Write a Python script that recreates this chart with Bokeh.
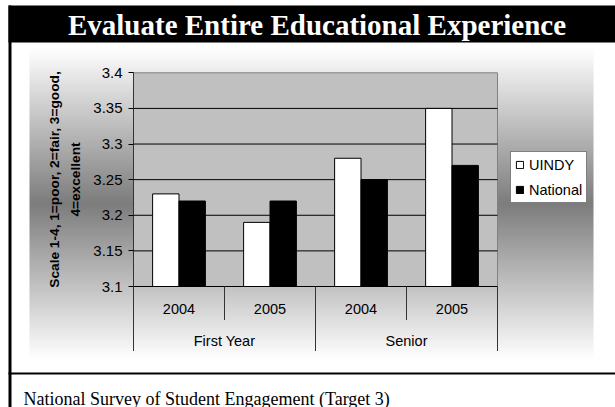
import numpy as np
from bokeh.plotting import figure
from bokeh.models import Range1d, LinearAxis, FixedTicker, Legend, LegendItem, ColumnDataSource
from bokeh.transform import dodge
from bokeh.core.properties import value
from bokeh.embed import file_html
from bokeh.resources import INLINE

# ---------------- data ----------------
TITLE = "Evaluate Entire Educational Experience"
CAPTION = "National Survey of Student Engagement (Target 3)"
Y_LABEL = "Scale 1-4, 1=poor, 2=fair, 3=good,\n4=excellent"
GROUPS = ["First Year", "First Year", "Senior", "Senior"]
YEARS = ["2004", "2005", "2004", "2005"]
SERIES = ["UINDY", "National"]
UINDY = [3.23, 3.19, 3.28, 3.35]
NATIONAL = [3.22, 3.22, 3.25, 3.27]
Y_TICKS = [3.1, 3.15, 3.2, 3.25, 3.3, 3.35, 3.4]
Y_TICK_LABELS = ["3.1", "3.15", "3.2", "3.25", "3.3", "3.35", "3.4"]

# ---------------- layout (pixels) ----------------
W, H = 615, 407
PLOT_L, PLOT_R, PLOT_T, PLOT_B = 133.0, 497.0, 72.3, 286.0
N = len(YEARS)
YMIN, YMAX = Y_TICKS[0], Y_TICKS[-1]
BAR_W = 0.29


def xd(px):
    return (px - PLOT_L) / (PLOT_R - PLOT_L) * N


def yd(py):
    return YMIN + (PLOT_B - py) / (PLOT_B - PLOT_T) * (YMAX - YMIN)


p = figure(width=W, height=H,
           x_range=Range1d(xd(0), xd(W)), y_range=Range1d(yd(H), yd(0)),
           output_backend="svg", toolbar_location=None,
           x_axis_location=None, y_axis_location=None,
           min_border=0, outline_line_color=None,
           background_fill_color="white", border_fill_color="white")
p.xgrid.visible = False
p.ygrid.visible = False

SANS = value("Liberation Sans")
SERIF = value("Liberation Serif")

# gradient chart-area background (white - gray - white)
G_T, G_B, G_L, G_R = 48, 358, 29, 593
rows = G_B - G_T
yy = np.arange(rows) + 0.5
t = 1 - np.abs(yy - rows / 2) / (rows / 2)
gray = (255 - (255 - 125) * t).astype(np.uint8)
img = np.zeros((rows, 1), dtype=np.uint32)
view = img.view(dtype=np.uint8).reshape((rows, 1, 4))
view[:, 0, 0] = gray
view[:, 0, 1] = gray
view[:, 0, 2] = gray
view[:, 0, 3] = 255
p.image_rgba(image=[img], x=xd(G_L), y=yd(G_B), dw=xd(G_R) - xd(G_L), dh=yd(G_T) - yd(G_B))

# page decoration: title bar, left rule, bottom rule
p.quad(left=xd(8), right=xd(W + 2), top=yd(5), bottom=yd(42), fill_color="black", line_color=None)
p.quad(left=xd(8), right=xd(11), top=yd(5), bottom=yd(H + 2), fill_color="black", line_color=None)
p.quad(left=xd(8), right=xd(W + 2), top=yd(372), bottom=yd(374), fill_color="black", line_color=None)

p.text(x=[xd(316.5)], y=[yd(24)], text=[TITLE], text_font=SERIF, text_font_style="bold",
       text_font_size="29px", text_color="white", text_align="center", text_baseline="middle")
p.text(x=[xd(23)], y=[yd(398)], text=[CAPTION], text_font=SERIF,
       text_font_size="18px", text_color="black", text_align="left", text_baseline="alphabetic")

# plot area
p.quad(left=0, right=N, bottom=YMIN, top=YMAX, fill_color="#C0C0C0", line_color="#808080")
p.segment(x0=[0] * (len(Y_TICKS) - 2), x1=[N] * (len(Y_TICKS) - 2),
          y0=Y_TICKS[1:-1], y1=Y_TICKS[1:-1], line_color="black", line_width=1)

xs = [i + 0.5 for i in range(N)]
src = ColumnDataSource(dict(x=xs, uindy=UINDY, national=NATIONAL))
r1 = p.vbar(x=dodge("x", -BAR_W / 2), width=BAR_W, bottom=YMIN, top="uindy", source=src,
            fill_color="white", line_color="black", line_width=1)
r2 = p.vbar(x=dodge("x", BAR_W / 2), width=BAR_W, bottom=YMIN, top="national", source=src,
            fill_color="black", line_color="black", line_width=1)

# category axis
p.segment(x0=[0], x1=[N], y0=[YMIN], y1=[YMIN], line_color="black", line_width=1)
bx_long, bx_short = [], []
for b in range(N + 1):
    if b == 0 or b == N or GROUPS[b - 1] != GROUPS[b]:
        bx_long.append(b)
    else:
        bx_short.append(b)
p.segment(x0=bx_long, x1=bx_long, y0=[YMIN] * len(bx_long), y1=[yd(350.5)] * len(bx_long),
          line_color="#333333", line_width=1)
p.segment(x0=bx_short, x1=bx_short, y0=[YMIN] * len(bx_short), y1=[yd(319.5)] * len(bx_short),
          line_color="#333333", line_width=1)
p.text(x=xs, y=[yd(308)] * N, text=YEARS, text_font=SANS, text_font_size="14.5px",
       text_color="black", text_align="center", text_baseline="middle")
group_names, group_pos = [], []
for g in dict.fromkeys(GROUPS):
    idx = [i for i, gg in enumerate(GROUPS) if gg == g]
    group_names.append(g)
    group_pos.append(sum(xs[i] for i in idx) / len(idx))
p.text(x=group_pos, y=[yd(340)] * len(group_pos), text=group_names, text_font=SANS,
       text_font_size="14.5px", text_color="black", text_align="center", text_baseline="middle")

# value axis
yaxis = LinearAxis(fixed_location=0, bounds=(YMIN, YMAX), ticker=FixedTicker(ticks=Y_TICKS),
                   major_label_overrides=dict(zip(Y_TICKS, Y_TICK_LABELS)),
                   axis_label=Y_LABEL, axis_label_standoff=7,
                   axis_label_text_font="Liberation Sans", axis_label_text_font_style="bold",
                   axis_label_text_font_size="13.7px", axis_label_text_color="black",
                   axis_label_text_line_height=1.45,
                   major_label_text_font="Liberation Sans", major_label_text_font_size="15px",
                   major_label_text_color="black", major_label_standoff=6,
                   major_tick_out=5, major_tick_in=0, major_tick_line_color="black",
                   minor_tick_line_color=None, axis_line_color="#333333")
p.add_layout(yaxis, "left")

legend = Legend(items=[LegendItem(label=SERIES[0], renderers=[r1]),
                       LegendItem(label=SERIES[1], renderers=[r2])],
                location=(510, H - 203), orientation="vertical",
                border_line_color="black", border_line_width=1,
                background_fill_color="white", background_fill_alpha=1.0,
                padding=4, spacing=8, margin=0, glyph_width=9, glyph_height=9,
                label_height=17, label_standoff=5,
                label_text_font="Liberation Sans", label_text_font_size="14.5px",
                label_text_color="black")
p.add_layout(legend)

open("out.html", "w").write(file_html(p, INLINE))
